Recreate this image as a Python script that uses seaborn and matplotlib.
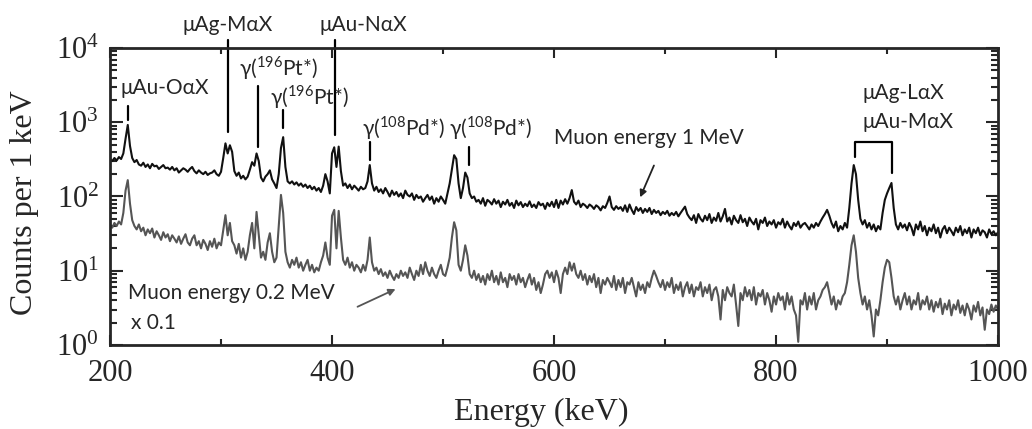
import numpy as np
import pandas as pd
import seaborn as sns
import matplotlib.pyplot as plt
from matplotlib.ticker import MultipleLocator, LogLocator, LogFormatterMathtext, NullFormatter

# energie achse, 2 keV schritte
energy_kev = np.arange(200, 1001, 2)

# Muon energy 1 MeV, counts per 1 keV (10 bins per row)
counts_1mev = [
    320, 300, 330, 305, 340, 320, 380, 600, 920, 480,   # 200
    330, 290, 310, 270, 260, 285, 250, 270, 240, 275,   # 220
    255, 260, 235, 250, 265, 240, 245, 230, 250, 225,   # 240
    240, 210, 225, 240, 230, 215, 235, 250, 220, 205,   # 260
    225, 210, 200, 215, 195, 205, 210, 225, 200, 190,   # 280
    215, 330, 520, 380, 490, 400, 220, 190, 210, 175,   # 300
    190, 170, 185, 230, 290, 260, 380, 300, 180, 160,   # 320
    185, 200, 225, 170, 150, 130, 200, 450, 630, 250,   # 340
    160, 150, 160, 145, 155, 140, 150, 135, 145, 130,   # 360
    140, 125, 135, 120, 130, 115, 140, 200, 160, 110,   # 380
    380, 460, 250, 470, 220, 140, 150, 130, 145, 125,   # 400
    140, 130, 120, 135, 125, 130, 160, 265, 150, 120,   # 420
    135, 115, 125, 110, 130, 115, 100, 120, 105, 115,   # 440
    100, 110, 95, 120, 105, 100, 110, 90, 105, 95,      # 460
    100, 85, 95, 105, 90, 100, 80, 95, 85, 100,         # 480
    90, 80, 110, 150, 230, 360, 320, 150, 95, 130,      # 500
    210, 180, 110, 95, 100, 85, 90, 80, 95, 75,         # 520
    90, 85, 78, 92, 80, 88, 72, 85, 78, 90,             # 540
    75, 82, 70, 88, 76, 84, 72, 80, 74, 86,             # 560
    72, 78, 70, 84, 76, 80, 68, 82, 74, 85,             # 580
    72, 90, 70, 88, 78, 92, 80, 95, 122, 85,            # 600
    78, 88, 72, 80, 76, 70, 78, 74, 68, 76,             # 620
    72, 65, 74, 70, 82, 100, 72, 66, 74, 68,            # 640
    72, 64, 76, 62, 78, 66, 58, 72, 64, 70,             # 660
    60, 68, 62, 70, 58, 66, 60, 64, 56, 62,             # 680
    58, 64, 55, 60, 56, 62, 54, 60, 66, 73,             # 700
    58, 52, 48, 56, 44, 58, 50, 46, 55, 48,             # 720
    58, 44, 52, 47, 60, 46, 54, 68, 46, 52,             # 740
    42, 55, 48, 44, 56, 45, 50, 40, 52, 46,             # 760
    42, 50, 36, 48, 44, 52, 40, 46, 42, 48,             # 780
    38, 45, 42, 50, 38, 46, 40, 36, 44, 40,             # 800
    46, 38, 42, 44, 40, 36, 42, 38, 44, 40,             # 820
    46, 52, 58, 66, 55, 44, 38, 46, 34, 40,             # 840
    36, 44, 38, 70, 150, 265, 200, 90, 50, 42,          # 860
    48, 38, 44, 36, 42, 34, 40, 36, 60, 90,             # 880
    110, 130, 152, 70, 42, 36, 44, 38, 42, 35,          # 900
    44, 38, 30, 42, 36, 46, 34, 40, 30, 38,             # 920
    34, 42, 32, 38, 28, 36, 40, 32, 38, 34,             # 940
    30, 38, 33, 40, 30, 36, 32, 38, 28, 36,             # 960
    32, 38, 30, 35, 33, 28, 36, 31, 34, 30,             # 980
    33,                                                 # 1000
]

# Muon energy 0.2 MeV, schon x 0.1
counts_02mev = [
    42, 38, 44, 40, 46, 42, 60, 120, 166, 80,           # 200
    48, 40, 36, 42, 34, 38, 30, 36, 32, 37,             # 220
    28, 34, 30, 26, 33, 28, 31, 25, 30, 27,             # 240
    24, 29, 23, 27, 31, 24, 22, 27, 30, 22,             # 260
    25, 20, 26, 23, 19, 25, 21, 27, 20, 24,             # 280
    22, 35, 56, 30, 44, 25, 22, 17, 23, 15,             # 300
    20, 14, 18, 30, 44, 20, 62, 30, 15, 18,             # 320
    14, 24, 32, 18, 13, 15, 40, 105, 60, 18,            # 340
    13, 11, 14, 12, 15, 11, 13, 10, 12, 14,             # 360
    10, 12, 9.5, 11, 10, 13, 16, 24, 15, 12,            # 380
    55, 66, 20, 64, 28, 14, 12, 15, 11, 13,             # 400
    10, 12, 11, 9.5, 12, 10, 14, 28, 13, 10,            # 420
    11, 9, 10.5, 8.5, 9.5, 8, 10, 8.5, 7.5, 9,          # 440
    8, 10, 8.5, 9.5, 8, 11, 9, 7.5, 10, 8.5,            # 460
    12, 9, 13, 10, 8.5, 11, 9, 8, 10, 12,               # 480
    9, 8.5, 11, 15, 28, 45, 35, 12, 10, 14,             # 500
    22, 16, 9, 8, 10, 7.5, 9, 7, 8.5, 6.5,              # 520
    9, 7.5, 10, 7, 8.5, 6.5, 9.5, 7, 8, 6,              # 540
    9, 7.5, 8.5, 6.5, 9, 7, 8, 6, 7.5, 9,               # 560
    6.5, 8, 5.5, 7, 5, 6.5, 9, 10, 8, 9.5,              # 580
    7, 10, 8, 5, 9, 11, 9, 13, 10, 12.5,                # 600
    9, 8, 10, 7.5, 9, 6.5, 8.5, 7, 9, 6,                # 620
    8, 5, 7.5, 6.5, 8, 7, 6, 8.5, 5.5, 7.5,             # 640
    6, 8, 5, 7, 6.5, 8, 6, 4.5, 7, 5.5,                 # 660
    6.5, 5, 7, 6, 8, 10, 8.5, 7, 6, 7.5,                # 680
    5.5, 7, 6, 8, 5, 6.5, 5.5, 7, 4.5, 6,               # 700
    7, 5, 6.5, 4.5, 6, 5.5, 7, 4.5, 6, 5,               # 720
    6.5, 4, 5.5, 6, 4.5, 2.2, 5.5, 4, 6, 5,             # 740
    4.5, 6.5, 3.5, 1.8, 5, 4, 6, 4.5, 5.5, 4,           # 760
    6, 3.5, 5, 4.5, 5.5, 3.5, 5, 4, 2.8, 4.5,           # 780
    3.5, 5, 4, 4.5, 3, 5, 3.5, 4.5, 3, 2.5,             # 800
    1.1, 4, 3.5, 5, 3, 4.5, 3.5, 5, 3, 4,               # 820
    4.5, 5.5, 6, 7, 5, 3.5, 4.5, 3, 4, 3.5,             # 840
    4.5, 5, 7, 12, 22, 30, 18, 8, 5, 3.5,               # 860
    4.5, 3, 4, 2.5, 1.3, 3, 2.5, 4, 7, 11,              # 880
    14, 13, 8, 4.5, 3.5, 4.5, 3, 4, 5, 3.5,             # 900
    4.5, 3, 4, 3.5, 5, 3, 4, 3.5, 4.5, 3,               # 920
    4, 2.8, 3.8, 3.2, 4.2, 2.6, 3.6, 3, 4, 2.5,         # 940
    3.5, 3, 4, 2.7, 3.4, 2.5, 3.6, 3, 2.2, 3.4,         # 960
    2.8, 3.8, 2.5, 3.2, 1.6, 3, 2.6, 3.5, 2.8, 3.4,     # 980
    3,                                                  # 1000
]

# markierungs striche: energie, oben, unten
marker_lines = [
    (216, 1660, 1070),
    (306, 12800, 740),
    (333, 3080, 465),
    (356, 1460, 840),
    (403, 12800, 675),
    (434, 542, 310),
    (523, 465, 265),
]

# beschriftungen: x, y, text, ausrichtung
peak_labels = [
    (209, 2900, "μAu-OαX", "left"),
    (306, 20400, "μAg-MαX", "center"),
    (352, 5380, r"γ($^{\mathregular{196}}$Pt*)", "center"),
    (380, 2190, r"γ($^{\mathregular{196}}$Pt*)", "center"),
    (428, 20400, "μAu-NαX", "center"),
    (464, 835, r"γ($^{\mathregular{108}}$Pd*)", "center"),
    (543, 835, r"γ($^{\mathregular{108}}$Pd*)", "center"),
    (878, 2470, "μAg-LαX", "left"),
    (878, 1000, "μAu-MαX", "left"),
    (600, 615, "Muon energy 1 MeV", "left"),
    (216, 5.0, "Muon energy 0.2 MeV", "left"),
    (219, 1.98, "x 0.1", "left"),
]

df = pd.DataFrame({"Energy": energy_kev, "high": counts_1mev, "low": counts_02mev})

sns.set_style("ticks")
plt.rcParams["font.family"] = ["Liberation Serif", "DejaVu Serif"]
plt.rcParams["mathtext.fontset"] = "custom"
plt.rcParams["mathtext.rm"] = "Lato"
sans = ["Lato", "Noto Sans", "DejaVu Sans"]

fig = plt.figure(figsize=(10.32, 4.29), dpi=100)
ax = fig.add_axes([0.1066, 0.196, 0.8605, 0.692])

sns.lineplot(data=df, x="Energy", y="high", ax=ax, color="#111111", lw=1.5, estimator=None)
sns.lineplot(data=df, x="Energy", y="low", ax=ax, color="#555555", lw=1.5, estimator=None)

ax.set_yscale("log")
ax.set_xlim(200, 1000)
ax.set_ylim(1, 1e4)
ax.xaxis.set_major_locator(MultipleLocator(200))
ax.xaxis.set_minor_locator(MultipleLocator(100))
ax.yaxis.set_major_locator(LogLocator(base=10, numticks=10))
ax.yaxis.set_minor_locator(LogLocator(base=10, subs=np.arange(2, 10), numticks=20))
ax.yaxis.set_major_formatter(LogFormatterMathtext())
ax.yaxis.set_minor_formatter(NullFormatter())

ax.tick_params(which="both", direction="in", top=True, right=True, labelsize=22, width=1.5)
ax.tick_params(axis="x", which="major", length=7, pad=10)
ax.tick_params(axis="x", which="minor", length=4)
ax.tick_params(axis="y", which="major", length=9, pad=8)
ax.tick_params(axis="y", which="minor", length=5)
for sp in ax.spines.values():
    sp.set_linewidth(2)

ax.set_xlabel("Energy (keV)", fontsize=23)
ax.set_ylabel("Counts per 1 keV", fontsize=23)
ax.xaxis.set_label_coords(0.486, -0.178)
ax.yaxis.set_label_coords(-0.080, 0.478)

for e, y_top, y_bot in marker_lines:
    ax.plot([e, e], [y_bot, y_top], color="black", lw=1.6, clip_on=False)

# klammer fuer Ag-L / Au-M
ax.plot([871, 871, 904.5, 904.5], [341, 542, 542, 208], color="black", lw=1.6)

for x, y, txt, ha in peak_labels:
    ax.text(x, y, txt, ha=ha, va="center", fontsize=15, family=sans, clip_on=False)

ax.annotate("", xy=(676.6, 90), xytext=(691, 283),
            arrowprops=dict(arrowstyle="-|>", color="#222222", lw=1.3, mutation_scale=10))
ax.annotate("", xy=(459.5, 5.86), xytext=(420.7, 3.15),
            arrowprops=dict(arrowstyle="-|>", color="#555555", lw=1.3, mutation_scale=10))

fig.savefig("out.png", dpi=100)
